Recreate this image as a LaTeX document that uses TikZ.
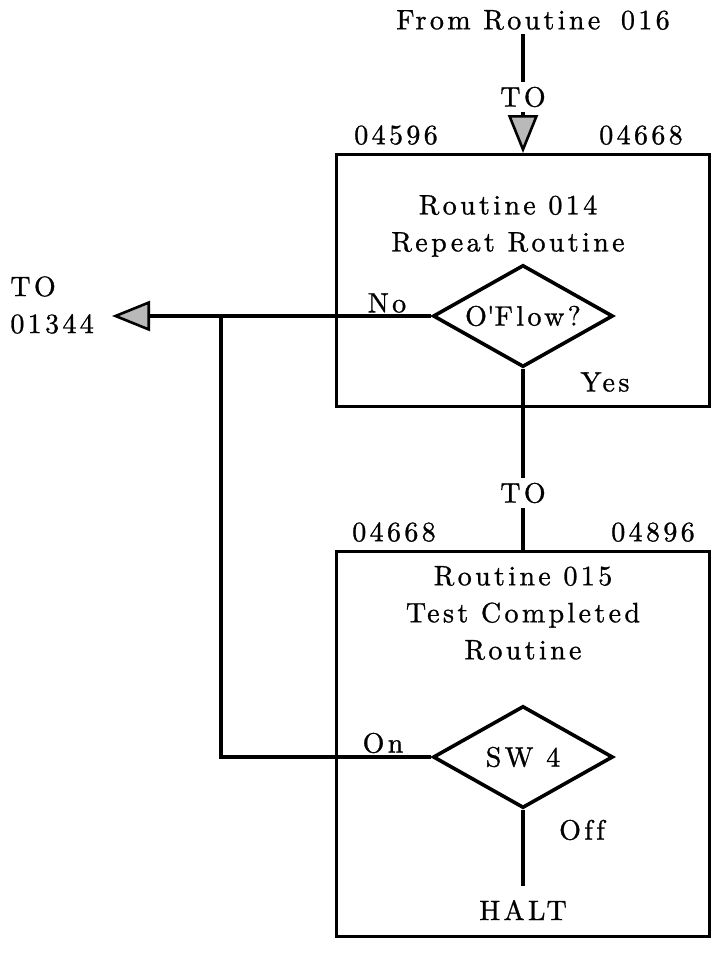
\documentclass[tikz,border=0pt]{standalone}
\usepackage{fontspec}
\setmainfont{lmroman10-regular.otf}[LetterSpace=12, FakeBold=1, Ligatures=NoCommon]
\usetikzlibrary{arrows.meta, positioning, shapes.geometric}

\begin{document}
\begin{tikzpicture}[
    x=0.5pt, y=-0.5pt,
    font=\fontsize{14}{18.5}\selectfont,
    routine/.style={rectangle, draw, line width=1.5pt, minimum width=186.5pt, anchor=north, inner sep=0pt},
    test/.style={diamond, draw, line width=1.8pt, aspect=1.8, minimum width=90pt, minimum height=51pt, inner sep=0pt},
    addr/.style={inner sep=1pt},
    lbl/.style={inner sep=2pt},
    conn/.style={line width=1.6pt},
    bigtip/.style={-{Triangle[length=19pt, width=15pt, fill=gray!55, line width=1.3pt]}},
  ]
  \useasboundingbox (0,0) rectangle (713,960);

  % the two routine boxes
  \node[routine, minimum height=126pt] (box014) at (523,153) {};
  \node[routine, minimum height=192.5pt] (box015) at (523,550) {};

  % addresses above the boxes
  \node[addr] (a04596) at (396,135) {04596};
  \node[addr] (a04668) at (641,135) {04668};
  \node[addr] (b04668) at (394,532) {04668};
  \node[addr] (b04896) at (653,532) {04896};

  % entry
  \node[lbl] (fromtxt) at (533,20) {From Routine\hspace{4pt} 016};
  \node[lbl] (toA) at (523,97) {TO};
  \draw[conn] (fromtxt.south -| toA.north) -- (toA.north);
  \draw[conn, bigtip] (toA.south) -- (box014.north);

  % routine 014
  \node[lbl, align=center] (t014) at (508,226) {Routine 014\\Repeat Routine};
  \node[test] (oflow) at (523,316) {O\textquotesingle Flow?};
  \node[lbl] (no) at (387,303) {No};
  \node[lbl] (yes) at (605,382) {Yes};

  % exit to 01344
  \node[lbl, align=left, anchor=west] (exit) at (6,305) {TO\\01344};
  \coordinate (tip) at (112,316);
  \coordinate (junc) at (221,316);
  \draw[conn, bigtip] (oflow.west) -- (tip);

  % down to routine 015
  \node[lbl] (toB) at (523,493) {TO};
  \draw[conn] (oflow.south) -- (toB.north);
  \draw[conn] (toB.south) -- (box015.north);

  % routine 015
  \node[lbl, align=center] (t015) at (523,613) {Routine 015\\Test Completed\\Routine};
  \node[test] (sw4) at (523,757) {SW 4};
  \node[lbl] (on) at (383,743) {On};
  \node[lbl] (off) at (582,830) {Off};
  \node[lbl] (halt) at (523,910) {HALT};
  \draw[conn, shorten >=5pt] (sw4.south) -- (halt.north);
  \draw[conn] (sw4.west) -- (sw4.west -| junc) -- (junc);
\end{tikzpicture}
\end{document}
